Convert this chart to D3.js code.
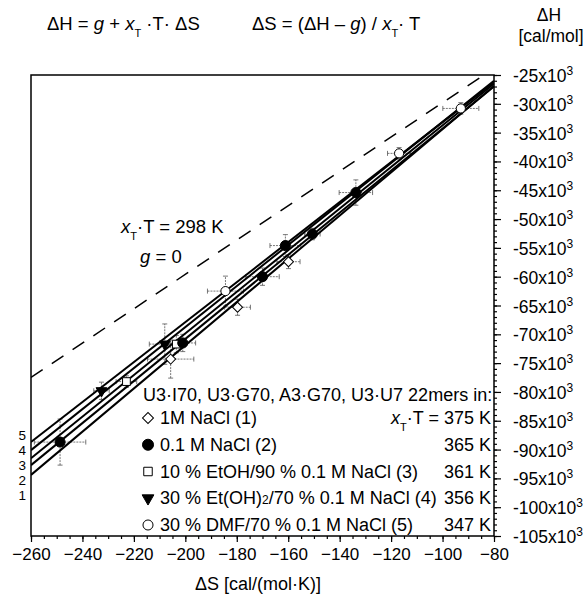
<!DOCTYPE html>
<html>
<head>
<meta charset="utf-8">
<script src="https://cdn.jsdelivr.net/npm/d3@7"></script>
<style>
body { margin: 0; background: #fff; }
text { font-family: "Liberation Sans", Arial, Helvetica, sans-serif; fill: #000; }
</style>
</head>
<body>
<svg width="587" height="595"></svg>
<script>
var svg = d3.select('svg');

// fit lines, numbered 1..5 as in the legend
var lineIds = [1, 2, 3, 4, 5];
var lineSlopes = [375, 365, 361, 356, 347];      // x_T*T  [K]
var lineG = [3100, 2200, 2360, 2460, 1520];      // g  [cal/mol]
var refSlope = 298, refG = 0;                     // dashed reference line

var legendNames = ['1M NaCl (1)', '0.1 M NaCl (2)', '10 % EtOH/90 % 0.1 M NaCl (3)',
                   '30 % Et(OH)2/70 % 0.1 M NaCl (4)', '30 % DMF/70 % 0.1 M NaCl (5)'];
var legendTemps = ['375 K', '365 K', '361 K', '356 K', '347 K'];

// measured points: which solvent, dS, dH, error bars
var ptSeries = [2, 4, 3, 4, 3, 2, 1, 5, 1, 2, 2, 1, 2, 2, 5, 5];
var ptS = [-248.7, -232.6, -222.9, -208.0, -203.5, -201.0, -205.7, -184.4, -179.7, -170.0, -161.1, -159.9, -150.6, -133.7, -116.9, -92.9];
var ptH = [-88700, -79800, -78200, -71700, -71700, -71500, -74300, -62500, -65300, -60000, -54600, -57400, -52600, -45400, -38600, -30800];
var ptErrS = [10, 3, 4, 6, 3, 5, 9, 7, 5, 6.5, 6, 4.5, 3, 6.5, 4.5, 7];
var ptErrH = [4000, 1500, 1000, 3500, 1500, 1500, 3300, 2600, 1400, 1500, 1900, 1200, 1000, 2200, 1000, 1000];

var xTicks = d3.range(-260, -79, 20);
var yTicks = d3.range(-25000, -105001, -5000);

var xScale = d3.scaleLinear().domain([-260, -80]).range([31, 494]);
var yScale = d3.scaleLinear().domain([-105000, -25000]).range([536, 75]);

// symbol per series
function symbolFor(s) {
    if (s == 1) return { type: d3.symbolSquare, size: 50, rot: 45, fill: '#fff' };
    if (s == 2) return { type: d3.symbolCircle, size: 80, rot: 0, fill: '#000' };
    if (s == 3) return { type: d3.symbolSquare, size: 60, rot: 0, fill: '#fff' };
    if (s == 4) return { type: d3.symbolTriangle, size: 50, rot: 180, fill: '#000' };
    return { type: d3.symbolCircle, size: 66, rot: 0, fill: '#fff' };
}

svg.append('defs').append('clipPath').attr('id', 'plotClip')
    .append('rect')
    .attr('x', xScale(-260)).attr('y', yScale(-25000))
    .attr('width', xScale(-80) - xScale(-260))
    .attr('height', yScale(-105000) - yScale(-25000));

var plot = svg.append('g').attr('clip-path', 'url(#plotClip)');

// dashed line x_T*T = 298 K, g = 0
plot.append('line')
    .attr('x1', xScale(-260)).attr('y1', yScale(refG + refSlope * -260))
    .attr('x2', xScale(-80)).attr('y2', yScale(refG + refSlope * -80))
    .attr('stroke', '#000').attr('stroke-width', 1.5)
    .attr('stroke-dasharray', '14,11');

// error bars
var errG = plot.append('g').attr('stroke', '#555').attr('stroke-width', 0.8).attr('fill', 'none');
ptS.forEach(function(s, i) {
    var cx = xScale(s), cy = yScale(ptH[i]);
    var x0 = xScale(s - ptErrS[i]), x1 = xScale(s + ptErrS[i]);
    var y0 = yScale(ptH[i] - ptErrH[i]), y1 = yScale(ptH[i] + ptErrH[i]);
    errG.append('path')
        .attr('stroke-dasharray', '2,1')
        .attr('d', 'M' + x0 + ',' + cy + 'H' + x1 + 'M' + cx + ',' + y0 + 'V' + y1);
    errG.append('path')
        .attr('d', 'M' + x0 + ',' + (cy - 2.5) + 'V' + (cy + 2.5) +
                   'M' + x1 + ',' + (cy - 2.5) + 'V' + (cy + 2.5) +
                   'M' + (cx - 2.5) + ',' + y0 + 'H' + (cx + 2.5) +
                   'M' + (cx - 2.5) + ',' + y1 + 'H' + (cx + 2.5));
});

// fit lines
plot.selectAll('.fit')
    .data(lineIds)
    .enter().append('line')
    .attr('class', 'fit')
    .attr('x1', xScale(-260))
    .attr('y1', function(d, i) { return yScale(lineG[i] + lineSlopes[i] * -260); })
    .attr('x2', xScale(-80))
    .attr('y2', function(d, i) { return yScale(lineG[i] + lineSlopes[i] * -80); })
    .attr('stroke', '#000').attr('stroke-width', 2);

// markers
plot.selectAll('.pt')
    .data(ptS)
    .enter().append('path')
    .attr('class', 'pt')
    .attr('transform', function(d, i) {
        var sym = symbolFor(ptSeries[i]);
        return 'translate(' + xScale(d) + ',' + yScale(ptH[i]) + ') rotate(' + sym.rot + ')';
    })
    .attr('d', function(d, i) { var sym = symbolFor(ptSeries[i]); return d3.symbol().type(sym.type).size(sym.size)(); })
    .attr('fill', function(d, i) { return symbolFor(ptSeries[i]).fill; })
    .attr('stroke', '#000').attr('stroke-width', 1);

// frame
svg.append('rect')
    .attr('x', xScale(-260)).attr('y', yScale(-25000))
    .attr('width', xScale(-80) - xScale(-260))
    .attr('height', yScale(-105000) - yScale(-25000))
    .attr('fill', 'none').attr('stroke', '#000').attr('stroke-width', 1.5);

// bottom axis
var xMinor = svg.append('g').attr('transform', 'translate(0,' + yScale(-105000) + ')')
    .call(d3.axisBottom(xScale).tickValues(d3.range(-260, -79, 5)).tickSize(3).tickFormat(''));
xMinor.select('.domain').remove();
var xMajor = svg.append('g').attr('transform', 'translate(0,' + yScale(-105000) + ')')
    .call(d3.axisBottom(xScale).tickValues(xTicks).tickSize(6).tickPadding(6).tickFormat(d3.format('d')));
xMajor.select('.domain').remove();
xMajor.selectAll('text').attr('font-size', 17).attr('font-family', '"Liberation Sans", Arial, sans-serif');

// right axis
var yMinor = svg.append('g').attr('transform', 'translate(' + xScale(-80) + ',0)')
    .call(d3.axisRight(yScale).tickValues(d3.range(-25000, -105001, -1000)).tickSize(3).tickFormat(''));
yMinor.select('.domain').remove();
var yMajor = svg.append('g').attr('transform', 'translate(' + xScale(-80) + ',0)')
    .call(d3.axisRight(yScale).tickValues(yTicks).tickSize(7).tickFormat(''));
yMajor.select('.domain').remove();
svg.selectAll('.tick line').attr('stroke-width', 1.2);

svg.append('g').selectAll('text')
    .data(yTicks)
    .enter().append('text')
    .attr('x', 513)
    .attr('y', function(d) { return yScale(d) + 7; })
    .attr('font-size', 17.5)
    .each(function(d) {
        var t = d3.select(this);
        t.append('tspan').text((d / 1000) + 'x10');
        t.append('tspan').attr('dy', -7).attr('font-size', 12).text('3');
    });

// axis titles
svg.append('text').attr('x', 195).attr('y', 590).attr('font-size', 18)
    .text('\u0394S  [cal/(mol\u00b7K)]');
svg.append('text').attr('x', 549).attr('y', 21).attr('font-size', 17.5)
    .attr('text-anchor', 'middle').text('\u0394H');
svg.append('text').attr('x', 551).attr('y', 42).attr('font-size', 17.5)
    .attr('text-anchor', 'middle').text('[cal/mol]');

// formulas on top
function xT(sel) {
    sel.append('tspan').attr('font-style', 'italic').text('x');
    sel.append('tspan').attr('dy', 7).attr('font-size', 11).text('T');
}
var f1 = svg.append('text').attr('x', 47).attr('y', 30).attr('font-size', 18.5);
f1.append('tspan').text('\u0394H = ');
f1.append('tspan').attr('font-style', 'italic').text('g');
f1.append('tspan').text(' + ');
xT(f1);
f1.append('tspan').attr('dy', -7).text(' \u00b7T\u00b7 \u0394S');

var f2 = svg.append('text').attr('x', 252).attr('y', 30).attr('font-size', 18.5);
f2.append('tspan').text('\u0394S = (\u0394H \u2013 ');
f2.append('tspan').attr('font-style', 'italic').text('g');
f2.append('tspan').text(') / ');
xT(f2);
f2.append('tspan').attr('dy', -7).text('\u00b7 T');

// reference line label
var r1 = svg.append('text').attr('x', 121).attr('y', 233).attr('font-size', 18.5);
xT(r1);
r1.append('tspan').attr('dy', -7).text('\u00b7T = 298 K');
var r2 = svg.append('text').attr('x', 140).attr('y', 263).attr('font-size', 18.5);
r2.append('tspan').attr('font-style', 'italic').text('g');
r2.append('tspan').text(' = 0');

// line numbers at the left
svg.append('g').selectAll('text')
    .data(lineIds.slice().reverse())
    .enter().append('text')
    .attr('x', 26).attr('text-anchor', 'end')
    .attr('y', function(d, i) { return 440 + i * 15; })
    .attr('font-size', 13.5)
    .text(function(d) { return d; });

// legend
var legX = 148, legY0 = 424, legStep = 26.75;
svg.append('text').attr('x', 143).attr('y', 401).attr('font-size', 18)
    .text('U3\u00b7I70, U3\u00b7G70, A3\u00b7G70, U3\u00b7U7 22mers in:');

var leg = svg.append('g').selectAll('g')
    .data(lineIds)
    .enter().append('g')
    .attr('transform', function(d, i) { return 'translate(0,' + (legY0 + i * legStep) + ')'; });

leg.append('path')
    .attr('transform', function(d) { return 'translate(' + legX + ',-6) rotate(' + symbolFor(d).rot + ')'; })
    .attr('d', function(d) { var sym = symbolFor(d); return d3.symbol().type(sym.type).size(sym.size * 1.2)(); })
    .attr('fill', function(d) { return symbolFor(d).fill; })
    .attr('stroke', '#000').attr('stroke-width', 1);

leg.append('text')
    .attr('x', 160).attr('font-size', 18)
    .each(function(d, i) {
        var t = d3.select(this);
        var name = legendNames[i];
        if (name.indexOf('Et(OH)2') >= 0) {
            var parts = name.split('Et(OH)2');
            t.append('tspan').text(parts[0] + 'Et(OH)');
            t.append('tspan').attr('font-size', 12).text('2');
            t.append('tspan').text(parts[1]);
        } else {
            t.text(name);
        }
    });

leg.append('text')
    .attr('x', 491).attr('text-anchor', 'end').attr('font-size', 18)
    .each(function(d, i) {
        var t = d3.select(this);
        if (i == 0) {
            xT(t);
            t.append('tspan').attr('dy', -7).text('\u00b7T = ' + legendTemps[i]);
        } else {
            t.text(legendTemps[i]);
        }
    });
</script>
</body>
</html>
